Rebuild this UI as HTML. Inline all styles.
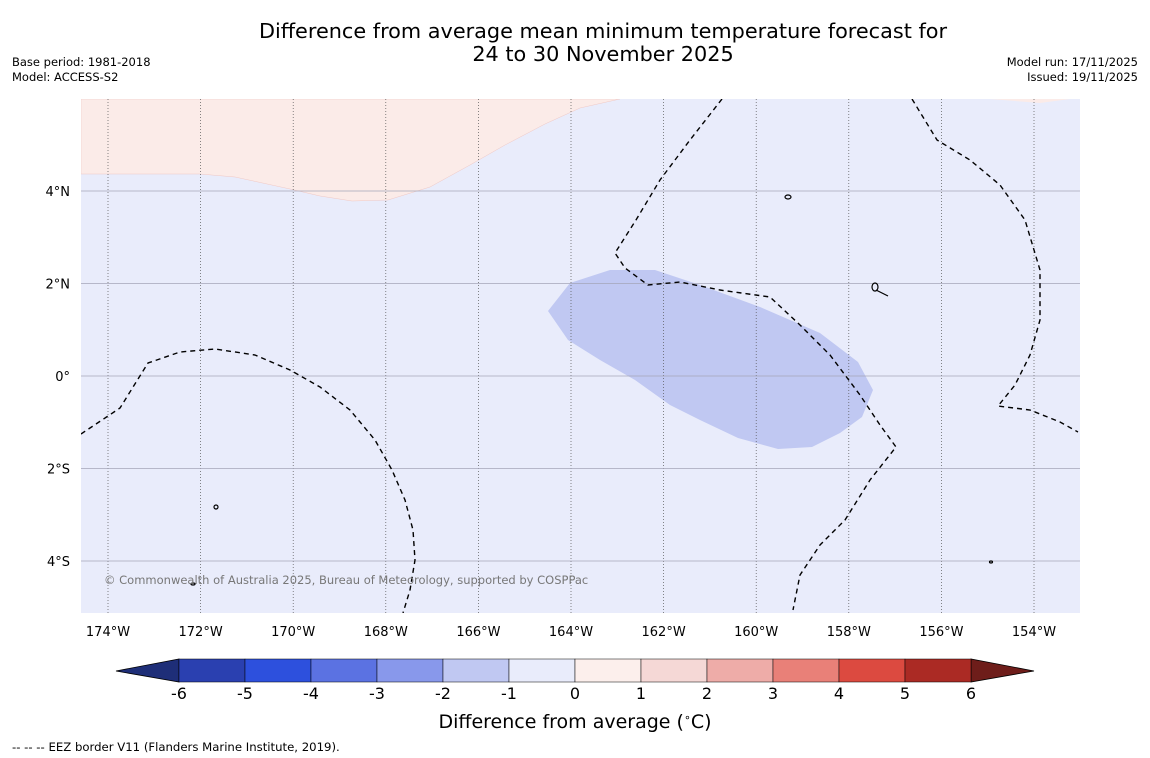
<!DOCTYPE html>
<html><head><meta charset="utf-8">
<style>
body{margin:0;background:#fff;width:1150px;height:758px;overflow:hidden;font-family:"DejaVu Sans","Liberation Sans",sans-serif}
svg{position:absolute;left:0;top:0;font-family:"DejaVu Sans","Liberation Sans",sans-serif}
</style></head>
<body>
<svg id="s" width="1150" height="758" xmlns="http://www.w3.org/2000/svg">
<text x="603" y="38" font-size="20.8" text-anchor="middle" fill="#000">Difference from average mean minimum temperature forecast for</text>
<text x="603" y="61" font-size="20.8" text-anchor="middle" fill="#000">24 to 30 November 2025</text>
<text x="12" y="66" font-size="11.5">Base period: 1981-2018</text>
<text x="12" y="81" font-size="11.5">Model: ACCESS-S2</text>
<text x="1138" y="66" font-size="11.5" text-anchor="end">Model run: 17/11/2025</text>
<text x="1138" y="81" font-size="11.5" text-anchor="end">Issued: 19/11/2025</text>
<defs><clipPath id="pc"><rect x="81" y="99" width="999" height="514"/></clipPath></defs>
<g clip-path="url(#pc)">
<rect x="81" y="99" width="999" height="514" fill="#e9ecfb"/>
<path d="M81,99 L81,174 L200,174 L235,177 L290,189 L320,196 L352,201 L388,200 L430,187 L470,165 L505,145 L545,124 L580,108 L620,99 Z" fill="#fbebe8" stroke="#f0c8c4" stroke-width="0.5"/>
<path d="M990,99 L1040,103 L1070,99 Z" fill="#fbebe8"/>
<path d="M548,311 L570,283 L610,270 L655,270 L700,285 L760,307 L820,333 L858,362 L873,390 L862,417 L840,433 L812,447 L778,449 L738,438 L700,420 L670,405 L635,380 L600,360 L568,340 Z" fill="#c0c8f2"/>
<g id="grid"></g>
<g fill="none" stroke="#000" stroke-width="1.4" stroke-dasharray="5,4">
<path d="M81,434 L120,408 L148,363 L180,352 L215,349 L255,355 L290,370 L320,387 L350,410 L375,440 L392,470 L405,500 L413,530 L415,560 L410,590 L403,613"/>
<path d="M722,99 L690,140 L660,180 L636,220 L615,253 L625,268 L648,285 L680,282 L720,290 L770,297 L800,325 L830,355 L860,395 L880,425 L896,447 L870,480 L845,520 L820,545 L800,575 L793,610"/>
<path d="M912,99 L937,140 L970,160 L1000,185 L1025,220 L1040,270 L1040,320 L1030,355 L1015,385 L998,406 L1030,410 L1060,422 L1078,432"/>
</g>
<g fill="none" stroke="#000" stroke-width="1.2">
<ellipse cx="788" cy="197" rx="3" ry="2"/><ellipse cx="875" cy="287" rx="3" ry="4"/><path d="M876,290 L888,296"/>
<ellipse cx="216" cy="507" rx="2" ry="2"/><ellipse cx="193" cy="584" rx="2" ry="1"/><ellipse cx="991" cy="562" rx="1.5" ry="1"/>
</g>
<text x="104" y="584" font-size="11.5" fill="#777">© Commonwealth of Australia 2025, Bureau of Meteorology, supported by COSPPac</text>
</g>
<g id="axes"></g>
<g id="cbar"></g>
<text x="575" y="728" font-size="19" text-anchor="middle">Difference from average (<tspan font-size="11" dy="-7">∘</tspan><tspan dy="7">C)</tspan></text>
<text x="12" y="751" font-size="11.7">--  --  -- EEZ border V11 (Flanders Marine Institute, 2019).</text>
</svg>
<script>
const lonTicks=[-174,-172,-170,-168,-166,-164,-162,-160,-158,-156,-154];
const latTicks=[4,2,0,-2,-4];
const levels=[-6,-5,-4,-3,-2,-1,0,1,2,3,4,5,6];
const colors=["#2a40b0","#2d50dd","#5b72e2","#8898eb","#c0c8f2","#e9ecfb","#fcefec","#f5d8d6","#eeaca8","#e98078","#dc4a40","#ab2a24"];
const NS="http://www.w3.org/2000/svg";
const lonX=l=>108+(l+174)*46.3;
const latY=l=>376-l*46.25;
function mk(t,a,p){const e=document.createElementNS(NS,t);for(const k in a)e.setAttribute(k,a[k]);p.appendChild(e);return e;}
const grid=document.getElementById('grid'),axes=document.getElementById('axes'),cb=document.getElementById('cbar');
lonTicks.forEach(l=>{const x=lonX(l);
const g=mk('line',{x1:x,x2:x,y1:99,y2:613,stroke:'#555','stroke-width':0.7,'stroke-dasharray':'1,2'},grid);


const t=mk('text',{x:x,y:636,'font-size':13,'text-anchor':'middle'},axes);t.textContent=Math.abs(l)+'°W';

});
latTicks.forEach(l=>{const y=latY(l);
const g=mk('line',{x1:81,x2:1080,y1:y,y2:y,stroke:'#a4a6b8','stroke-width':0.8},grid);


const t=mk('text',{x:70,y:y+5,'font-size':13,'text-anchor':'end'},axes);t.textContent=l===0?'0°':Math.abs(l)+(l>0?'°N':'°S');

});
const cx=v=>179+(v+6)*66;
const e1=mk('polygon',{points:`116,671 ${cx(-6)},659 ${cx(-6)},682`,fill:'#1e2e78',stroke:'#000','stroke-width':0.8},cb);


const e2=mk('polygon',{points:`1034,671 ${cx(6)},659 ${cx(6)},682`,fill:'#6e1d1a',stroke:'#000','stroke-width':0.8},cb);


colors.forEach((c,i)=>{const r=mk('rect',{x:cx(levels[i]),y:659,width:cx(levels[i+1])-cx(levels[i]),height:23,fill:c,stroke:'#000','stroke-width':0.5},cb);

});
levels.forEach(v=>{const t=mk('text',{x:cx(v),y:699,'font-size':16,'text-anchor':'middle'},cb);t.textContent=v;

});
</script>
</body></html>
